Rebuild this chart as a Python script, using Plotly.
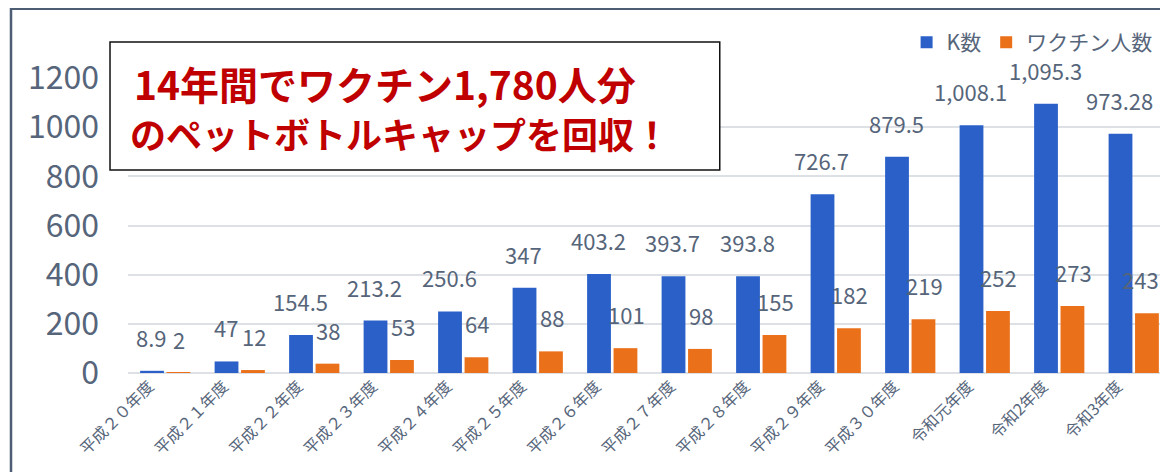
import plotly.graph_objects as go

categories = ["平成２０年度", "平成２１年度", "平成２２年度", "平成２３年度", "平成２４年度",
              "平成２５年度", "平成２６年度", "平成２７年度", "平成２８年度", "平成２９年度",
              "平成３０年度", "令和元年度", "令和2年度", "令和3年度"]
k_values = [8.9, 47, 154.5, 213.2, 250.6, 347, 403.2, 393.7, 393.8, 726.7, 879.5, 1008.1, 1095.3, 973.28]
k_labels = ["8.9", "47", "154.5", "213.2", "250.6", "347", "403.2", "393.7", "393.8", "726.7",
            "879.5", "1,008.1", "1,095.3", "973.28"]
vaccine_values = [2, 12, 38, 53, 64, 88, 101, 98, 155, 182, 219, 252, 273, 243]
vaccine_labels = [str(v) for v in vaccine_values]
y_ticks = [0, 200, 400, 600, 800, 1000, 1200]
title_lines = ["14年間でワクチン1,780人分", "のペットボトルキャップを回収！"]

BLUE = "#2a60c8"
ORANGE = "#ea7019"
TXT = "#56657a"
FONT = "Noto Sans CJK JP"

fig = go.Figure()
fig.add_trace(go.Bar(x=categories, y=k_values, name="K数", marker=dict(color=BLUE, line_width=0)))
fig.add_trace(go.Bar(x=categories, y=vaccine_values, name="ワクチン人数", marker=dict(color=ORANGE, line_width=0)))

annotations = []
for c, v, t in zip(categories, k_values, k_labels):
    annotations.append(dict(x=c, y=v, text=t, xref="x", yref="y", showarrow=False,
                            xshift=-14, yshift=16, yanchor="bottom",
                            font=dict(size=22, color=TXT, family=FONT)))
n = len(categories)
for i, (c, v, t) in enumerate(zip(categories, vaccine_values, vaccine_labels)):
    last = (i == n - 1)
    annotations.append(dict(x=c, y=v, text=t, xref="x", yref="y", showarrow=False,
                            xshift=27 if last else 14, xanchor="right" if last else "center",
                            yshift=16, yanchor="bottom",
                            font=dict(size=22, color=TXT, family=FONT)))

# title text box lines
annotations.append(dict(x=0.004, y=0.984, xref="paper", yref="paper", text="<b>" + title_lines[0] + "</b>",
                        showarrow=False, xanchor="left", yanchor="middle",
                        font=dict(size=39, color="#c00000", family=FONT)))
annotations.append(dict(x=0.0, y=0.814, xref="paper", yref="paper", text="<b>" + title_lines[1] + "</b>",
                        showarrow=False, xanchor="left", yanchor="middle",
                        font=dict(size=36, color="#c00000", family=FONT)))

shapes = [
    # outer chart frame
    dict(type="rect", xref="paper", yref="paper", x0=-0.1125, x1=1.05, y0=-0.5, y1=1.235,
         line=dict(color="#4d5d73", width=2.5), fillcolor="rgba(0,0,0,0)", layer="above"),
    # text box
    dict(type="rect", xref="paper", yref="paper", x0=-0.0173, x1=0.569, y0=0.688, y1=1.122,
         line=dict(color="#111111", width=1.5), fillcolor="white", layer="above"),
]

fig.update_layout(
    width=1160, height=464,
    margin=dict(l=120, r=0, t=70, b=99, autoexpand=False),
    paper_bgcolor="white", plot_bgcolor="white",
    barmode="group", bargap=0.29, bargroupgap=0.1,
    font=dict(family=FONT, color=TXT),
    showlegend=True,
    legend=dict(orientation="h", x=0.99, y=1.12, xanchor="right", yanchor="middle",
                font=dict(size=21, color=TXT, family=FONT), bgcolor="rgba(0,0,0,0)",
                traceorder="normal"),
    xaxis=dict(range=[-0.5, 13.46], tickangle=-45, tickfont=dict(size=16, color=TXT, family=FONT),
               showgrid=False, showline=False, ticks="", automargin=False, ticklabelshift=-16),
    yaxis=dict(range=[0, 1200], tickvals=y_ticks, tickfont=dict(size=32, color=TXT, family=FONT),
               showgrid=True, gridcolor="#dde1e6", gridwidth=2, zeroline=True, zerolinecolor="#dde1e6",
               zerolinewidth=2, showline=False, ticks="", ticklabelstandoff=28, automargin=False),
    annotations=annotations,
    shapes=shapes,
)

fig.write_html("out.html")
